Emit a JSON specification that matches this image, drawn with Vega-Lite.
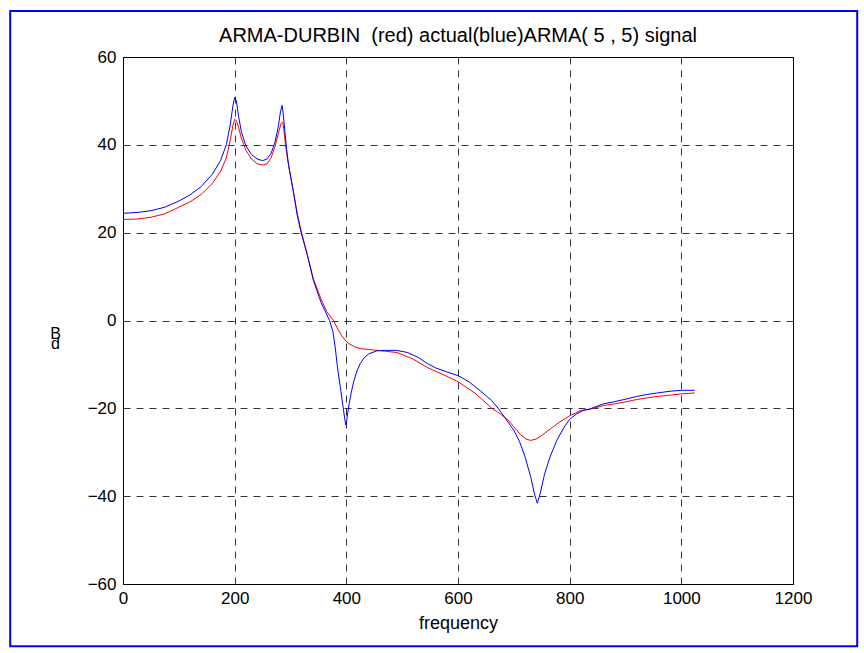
{
  "$schema": "https://vega.github.io/schema/vega-lite/v6.json",
  "autosize": {"type": "none"},
  "width": 670,
  "height": 527,
  "padding": {"left": 123, "top": 57, "right": 71, "bottom": 69},
  "background": "white",
  "title": {"text": "ARMA-DURBIN \u00a0(red) actual(blue)ARMA( 5 , 5) signal", "font": "Liberation Sans", "fontSize": 20, "fontWeight": "normal", "color": "black", "offset": -36, "anchor": "middle", "frame": "group"},
  "config": {
    "view": {"stroke": "black", "strokeWidth": 1},
    "axis": {"labelFont": "Liberation Sans", "labelFontSize": 17, "labelColor": "black", "titleFont": "Liberation Sans", "titleFontSize": 18, "titleFontWeight": "normal", "titleColor": "black", "grid": true, "gridColor": "black", "gridDash": [7, 6], "gridWidth": 0.8, "gridOpacity": 1, "domainColor": "black", "ticks": false}
  },
  "datasets": {
    "blue": [
      {"f":0,"db":24.4},{"f":25,"db":24.6},{"f":50,"db":25.0},{"f":75,"db":25.8},{"f":100,"db":27.2},{"f":120,"db":28.6},{"f":140,"db":30.5},{"f":160,"db":33.3},{"f":175,"db":36.5},{"f":185,"db":40.0},{"f":192,"db":44.5},{"f":197,"db":49.0},{"f":200,"db":50.8},{"f":203,"db":50.0},{"f":207,"db":46.5},{"f":212,"db":43.0},{"f":220,"db":39.8},{"f":230,"db":37.8},{"f":240,"db":36.8},{"f":250,"db":36.4},{"f":258,"db":36.8},{"f":265,"db":38.0},{"f":272,"db":40.5},{"f":278,"db":44.0},{"f":282,"db":47.5},{"f":285,"db":49.0},{"f":287,"db":47.0},{"f":290,"db":43.0},{"f":293,"db":39.0},{"f":297,"db":35.0},{"f":305,"db":29.5},{"f":312,"db":24.0},{"f":319,"db":20.0},{"f":330,"db":15.0},{"f":341,"db":9.1},{"f":355,"db":4.0},{"f":370,"db":0.0},{"f":376,"db":-2.5},{"f":380,"db":-6.0},{"f":384,"db":-10.5},{"f":389,"db":-15.0},{"f":394,"db":-19.5},{"f":397,"db":-22.3},{"f":399,"db":-23.8},{"f":400,"db":-23.5},{"f":402,"db":-21.5},{"f":405,"db":-19.0},{"f":409,"db":-16.3},{"f":413,"db":-14.0},{"f":419,"db":-11.5},{"f":425,"db":-9.8},{"f":432,"db":-8.5},{"f":440,"db":-7.6},{"f":455,"db":-6.9},{"f":470,"db":-6.8},{"f":490,"db":-6.8},{"f":510,"db":-7.3},{"f":530,"db":-8.5},{"f":545,"db":-9.8},{"f":560,"db":-10.8},{"f":580,"db":-11.7},{"f":601,"db":-12.6},{"f":620,"db":-14.0},{"f":640,"db":-16.0},{"f":660,"db":-18.2},{"f":672,"db":-20.0},{"f":685,"db":-22.3},{"f":700,"db":-25.0},{"f":710,"db":-27.5},{"f":720,"db":-31.0},{"f":730,"db":-35.5},{"f":737,"db":-39.5},{"f":742,"db":-41.6},{"f":747,"db":-39.5},{"f":755,"db":-35.0},{"f":765,"db":-31.0},{"f":777,"db":-27.3},{"f":790,"db":-24.3},{"f":800,"db":-22.5},{"f":812,"db":-21.3},{"f":824,"db":-20.5},{"f":837,"db":-20.1},{"f":860,"db":-19.0},{"f":880,"db":-18.5},{"f":897,"db":-18.0},{"f":920,"db":-17.3},{"f":940,"db":-16.8},{"f":957,"db":-16.5},{"f":980,"db":-16.1},{"f":1000,"db":-15.9},{"f":1024,"db":-15.9}
    ],
    "red": [
      {"f":0,"db":23.0},{"f":25,"db":23.1},{"f":50,"db":23.5},{"f":75,"db":24.3},{"f":100,"db":25.8},{"f":120,"db":27.0},{"f":140,"db":28.7},{"f":160,"db":31.2},{"f":175,"db":34.0},{"f":185,"db":37.0},{"f":192,"db":41.0},{"f":197,"db":44.5},{"f":200,"db":45.8},{"f":203,"db":45.5},{"f":207,"db":44.0},{"f":212,"db":41.5},{"f":220,"db":38.8},{"f":230,"db":36.8},{"f":240,"db":35.7},{"f":250,"db":35.4},{"f":258,"db":35.7},{"f":265,"db":37.0},{"f":272,"db":39.5},{"f":278,"db":42.5},{"f":283,"db":44.8},{"f":286,"db":45.2},{"f":288,"db":43.5},{"f":291,"db":40.0},{"f":295,"db":36.5},{"f":300,"db":33.0},{"f":305,"db":29.5},{"f":312,"db":24.5},{"f":319,"db":20.5},{"f":330,"db":15.0},{"f":341,"db":9.5},{"f":355,"db":4.8},{"f":365,"db":2.0},{"f":377,"db":0.0},{"f":385,"db":-2.0},{"f":392,"db":-3.5},{"f":398,"db":-4.5},{"f":405,"db":-5.3},{"f":415,"db":-6.0},{"f":425,"db":-6.4},{"f":440,"db":-6.6},{"f":455,"db":-6.8},{"f":470,"db":-7.0},{"f":491,"db":-7.3},{"f":520,"db":-8.8},{"f":545,"db":-10.7},{"f":575,"db":-12.4},{"f":601,"db":-14.0},{"f":630,"db":-16.5},{"f":661,"db":-20.0},{"f":676,"db":-21.3},{"f":690,"db":-22.7},{"f":700,"db":-24.2},{"f":712,"db":-26.0},{"f":722,"db":-27.0},{"f":730,"db":-27.3},{"f":740,"db":-27.0},{"f":750,"db":-26.2},{"f":765,"db":-24.7},{"f":780,"db":-23.3},{"f":800,"db":-21.7},{"f":820,"db":-20.5},{"f":837,"db":-20.2},{"f":860,"db":-19.4},{"f":880,"db":-19.0},{"f":897,"db":-18.6},{"f":920,"db":-18.0},{"f":940,"db":-17.6},{"f":957,"db":-17.3},{"f":980,"db":-17.0},{"f":1000,"db":-16.7},{"f":1024,"db":-16.5}
    ],
    "frame": [{"x1": -202, "x2": 1315, "y1": 70.5, "y2": -74.2}]
  },
  "layer": [
    {
      "data": {"name": "frame"},
      "mark": {"type": "rect", "fill": null, "stroke": "#0000ff", "strokeWidth": 2, "clip": false},
      "encoding": {
        "x": {"field": "x1", "type": "quantitative", "scale": {"domain": [0, 1200], "nice": false, "zero": false}},
        "x2": {"field": "x2"},
        "y": {"field": "y1", "type": "quantitative", "scale": {"domain": [-60, 60], "nice": false, "zero": false}},
        "y2": {"field": "y2"}
      }
    },
    {
      "data": {"name": "red"},
      "mark": {"type": "line", "color": "#ff0000", "strokeWidth": 1},
      "encoding": {
        "x": {"field": "f", "type": "quantitative"},
        "y": {"field": "db", "type": "quantitative"}
      }
    },
    {
      "data": {"name": "blue"},
      "mark": {"type": "line", "color": "#0000ff", "strokeWidth": 1},
      "encoding": {
        "x": {"field": "f", "type": "quantitative", "scale": {"domain": [0, 1200], "nice": false, "zero": false}, "axis": {"title": "frequency", "format": "d", "values": [0, 200, 400, 600, 800, 1000, 1200], "labelPadding": 6, "titlePadding": 8, "labelFlush": false}},
        "y": {"field": "db", "type": "quantitative", "scale": {"domain": [-60, 60], "nice": false, "zero": false}, "axis": {"title": ["B", "d"], "titleFontSize": 16, "titleAngle": 0, "titleX": -68, "titleY": 276, "titleBaseline": "middle", "titleLineHeight": 10, "values": [-60, -40, -20, 0, 20, 40, 60], "labelPadding": 7, "labelFlush": false}}
      }
    }
  ]
}
